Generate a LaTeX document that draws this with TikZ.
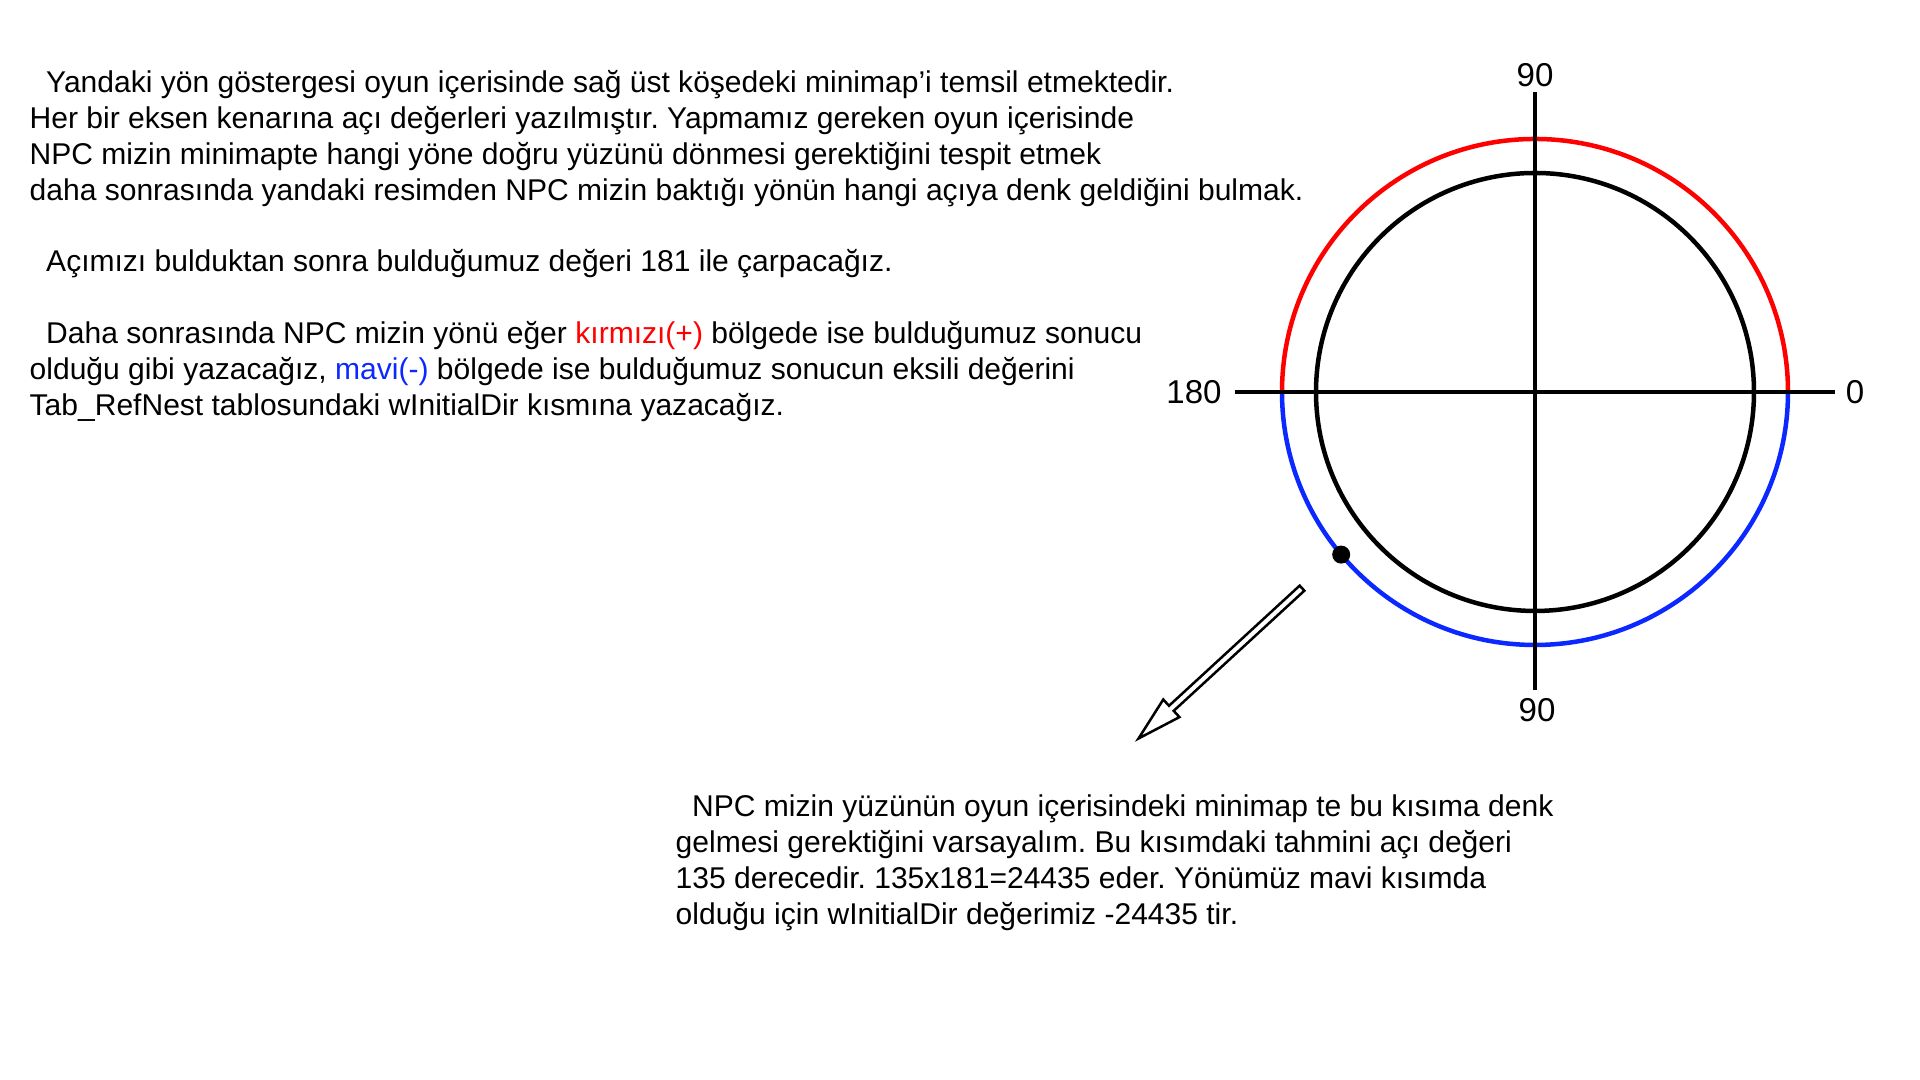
\documentclass[tikz,border=0pt]{standalone}
\usepackage{fontspec}
\setmainfont{Liberation Sans}
\usetikzlibrary{shapes, arrows, positioning, calc}

\definecolor{regionred}{RGB}{255,0,0}
\definecolor{regionblue}{RGB}{10,40,255}

\frenchspacing

\begin{document}
\begin{tikzpicture}[
    x=0.01cm, y=0.01cm,
    axisline/.style={
        line width=0.4mm,
        black
    },
    ring/.style={
        line width=0.45mm
    },
    anglelabel/.style={
        font=\fontsize{9.4}{11}\selectfont,
        inner sep=0pt
    },
    bodytext/.style={
        font=\fontsize{8.54}{10.19}\selectfont,
        align=left,
        inner sep=0pt,
        anchor=north west
    },
    npcdot/.style={
        circle,
        fill=black,
        inner sep=0pt,
        minimum size=0.18cm
    },
    hollowarrow/.style={
        single arrow,
        draw=black,
        fill=white,
        line width=0.25mm,
        inner sep=0.22mm,
        minimum height=2.22cm,
        single arrow head extend=0.85mm,
        single arrow tip angle=30,
        single arrow head indent=0pt
    }
]

\useasboundingbox (0,0) rectangle (1920,1080);

% Explanation text
\node[bodytext] (intro) at (29,1010) {
    \hspace{0.55em}Yandaki yön göstergesi oyun içerisinde sağ üst köşedeki minimap’i temsil etmektedir.\\
    Her bir eksen kenarına açı değerleri yazılmıştır. Yapmamız gereken oyun içerisinde\\
    NPC mizin minimapte hangi yöne doğru yüzünü dönmesi gerektiğini tespit etmek\\
    daha sonrasında yandaki resimden NPC mizin baktığı yönün hangi açıya denk geldiğini bulmak.\\[10.19pt]
    \hspace{0.55em}Açımızı bulduktan sonra bulduğumuz değeri 181 ile çarpacağız.\\[10.19pt]
    \hspace{0.55em}Daha sonrasında NPC mizin yönü eğer \textcolor{regionred}{kırmızı(+)} bölgede ise bulduğumuz sonucu\\
    olduğu gibi yazacağız, \textcolor{regionblue}{mavi(-)} bölgede ise bulduğumuz sonucun eksili değerini\\
    Tab\_RefNest tablosundaki wInitialDir kısmına yazacağız.
};

% Minimap rings
\coordinate (c) at (1535,688);
\draw[ring, regionred] ($(c)+(253,0)$) arc[start angle=0, end angle=180, radius=253];
\draw[ring, regionblue] ($(c)+(-253,0)$) arc[start angle=180, end angle=360, radius=253];
\draw[ring, black] (c) circle (219);

% Axes
\coordinate (east) at ($(c)+(300,0)$);
\coordinate (west) at ($(c)+(-300,0)$);
\coordinate (north) at ($(c)+(0,300)$);
\coordinate (south) at ($(c)+(0,-298)$);
\draw[axisline] (west) -- (east);
\draw[axisline] (south) -- (north);

% Axis labels
\node[anglelabel] (lbltop) at (1535,1005) {90};
\node[anglelabel] (lblbottom) at (1537,370) {90};
\node[anglelabel] (lblleft) at (1194,688) {180};
\node[anglelabel] (lblright) at (1855,688) {0};

% NPC direction
\node[npcdot] (npc) at ($(c)+(220:253)$) {};
\node[hollowarrow, rotate=222.6] (pointer) at (1225,421) {};

% Example note
\node[bodytext] (note) at (675,285.5) {
    \hspace{0.55em}NPC mizin yüzünün oyun içerisindeki minimap te bu kısıma denk\\
    gelmesi gerektiğini varsayalım. Bu kısımdaki tahmini açı değeri\\
    135 derecedir. 135x181=24435 eder. Yönümüz mavi kısımda\\
    olduğu için wInitialDir değerimiz -24435 tir.
};

\end{tikzpicture}
\end{document}
